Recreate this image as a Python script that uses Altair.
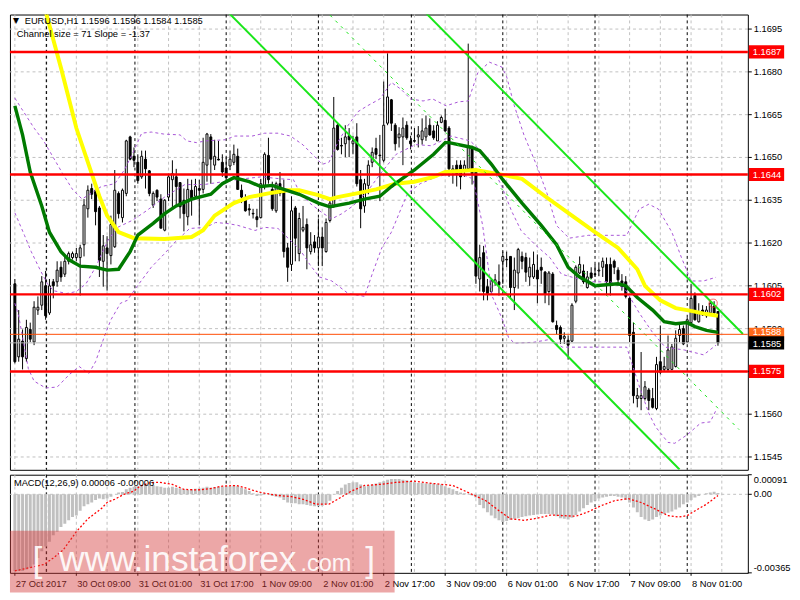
import altair as alt
import pandas as pd

W = 752
H_MAIN = 464
H_MACD = 100

# ---------------- data ----------------
bar_open = [1.16057,1.15801,1.15856,1.15795,1.15897,1.15853,1.15965,1.15982,1.16050,1.15955,
1.16064,1.16064,1.16115,1.16091,1.16136,1.16149,1.16149,1.16149,1.16194,1.16320,
1.16391,1.16385,1.16323,1.16136,1.16183,1.16156,1.16187,1.16374,1.16289,1.16374,
1.16572,1.16504,1.16483,1.16432,1.16494,1.16453,1.16333,1.16385,1.16354,1.16245,
1.16361,1.16422,1.16432,1.16412,1.16350,1.16292,1.16385,1.16364,1.16391,1.16388,
1.16473,1.16572,1.16473,1.16494,1.16483,1.16463,1.16470,1.16483,1.16504,1.16385,
1.16354,1.16320,1.16304,1.16292,1.16289,1.16398,1.16507,1.16388,1.16313,1.16408,
1.16388,1.16183,1.16125,1.16323,1.16163,1.16245,1.16265,1.16170,1.16204,1.16183,
1.16221,1.16170,1.16279,1.16330,1.16613,1.16542,1.16548,1.16576,1.16548,1.16572,
1.16422,1.16330,1.16402,1.16483,1.16531,1.16508,1.16490,1.16620,1.16702,1.16613,
1.16569,1.16572,1.16613,1.16558,1.16559,1.16572,1.16562,1.16572,1.16613,1.16593,
1.16558,1.16623,1.16630,1.16603,1.16449,1.16473,1.16473,1.16456,1.16460,1.16535,
1.16456,1.16074,1.16166,1.16047,1.16030,1.16061,1.16064,1.16136,1.16143,1.16153,
1.16044,1.16095,1.16153,1.16149,1.16081,1.16081,1.16105,1.16115,1.16098,1.16030,
1.16091,1.15911,1.15904,1.15866,1.15859,1.15856,1.15996,1.16095,1.16102,1.16044,
1.16095,1.16092,1.16102,1.16115,1.16125,1.16125,1.16136,1.16105,1.16067,1.16064,
1.16006,1.15887,1.15655,1.15655,1.15655,1.15685,1.15655,1.15620,1.15784,1.15757,
1.15757,1.15757,1.15767,1.15876,1.15900,1.15853,1.15921,1.16016,1.15924,1.15965,
1.15945,1.15955,1.15979,1.15960]

bar_high = [1.16074,1.15965,1.15897,1.15931,1.15921,1.15996,1.16013,1.16084,1.16102,1.16074,
1.16074,1.16136,1.16136,1.16153,1.16170,1.16170,1.16183,1.16194,1.16354,1.16402,
1.16408,1.16408,1.16330,1.16228,1.16224,1.16296,1.16456,1.16381,1.16391,1.16562,
1.16576,1.16535,1.16511,1.16524,1.16524,1.16456,1.16381,1.16388,1.16371,1.16354,
1.16443,1.16490,1.16460,1.16412,1.16391,1.16425,1.16422,1.16425,1.16422,1.16569,
1.16586,1.16582,1.16562,1.16558,1.16511,1.16501,1.16524,1.16545,1.16531,1.16405,
1.16371,1.16337,1.16320,1.16320,1.16425,1.16518,1.16569,1.16415,1.16415,1.16449,
1.16422,1.16200,1.16364,1.16330,1.16306,1.16330,1.16286,1.16238,1.16228,1.16286,
1.16255,1.16286,1.16354,1.16712,1.16620,1.16569,1.16613,1.16603,1.16576,1.16620,
1.16456,1.16425,1.16490,1.16535,1.16569,1.16579,1.16766,1.16865,1.16705,1.16620,
1.16606,1.16640,1.16627,1.16576,1.16603,1.16610,1.16637,1.16647,1.16637,1.16613,
1.16627,1.16647,1.16671,1.16610,1.16473,1.16490,1.16490,1.16490,1.16899,1.16541,
1.16460,1.16194,1.16190,1.16074,1.16074,1.16091,1.16125,1.16170,1.16170,1.16153,
1.16149,1.16183,1.16170,1.16166,1.16149,1.16170,1.16160,1.16149,1.16102,1.16102,
1.16098,1.15928,1.15911,1.15887,1.15876,1.15989,1.16122,1.16153,1.16125,1.16102,
1.16115,1.16125,1.16132,1.16149,1.16149,1.16149,1.16142,1.16115,1.16091,1.16084,
1.16013,1.15921,1.15692,1.15818,1.15716,1.15692,1.15692,1.15801,1.15911,1.15801,
1.15876,1.15846,1.15894,1.15914,1.15911,1.15938,1.16057,1.16027,1.15989,1.15982,
1.15979,1.15999,1.15996,1.15960]

bar_low = [1.15778,1.15784,1.15757,1.15784,1.15853,1.15842,1.15948,1.15965,1.15931,1.15948,
1.16006,1.16047,1.16064,1.16081,1.16125,1.16142,1.16136,1.16016,1.16153,1.16289,
1.16354,1.16262,1.16081,1.16047,1.16033,1.16125,1.16183,1.16286,1.16272,1.16364,
1.16490,1.16466,1.16408,1.16425,1.16391,1.16364,1.16323,1.16347,1.16252,1.16241,
1.16347,1.16320,1.16330,1.16286,1.16241,1.16262,1.16296,1.16357,1.16262,1.16374,
1.16415,1.16408,1.16456,1.16490,1.16432,1.16422,1.16456,1.16473,1.16388,1.16340,
1.16310,1.16296,1.16286,1.16255,1.16286,1.16388,1.16408,1.16313,1.16306,1.16364,
1.16149,1.16064,1.16102,1.16136,1.16136,1.16238,1.16108,1.16160,1.16166,1.16119,
1.16119,1.16166,1.16272,1.16323,1.16524,1.16511,1.16501,1.16501,1.16511,1.16398,
1.16252,1.16306,1.16371,1.16466,1.16494,1.16347,1.16483,1.16613,1.16593,1.16524,
1.16535,1.16473,1.16562,1.16528,1.16552,1.16535,1.16545,1.16558,1.16576,1.16562,
1.16558,1.16620,1.16589,1.16432,1.16408,1.16398,1.16388,1.16432,1.16456,1.16405,
1.16057,1.16030,1.15999,1.15999,1.16023,1.16050,1.16016,1.16057,1.16115,1.16006,
1.15965,1.16040,1.16108,1.16064,1.16050,1.16074,1.15989,1.16057,1.15989,1.15982,
1.15921,1.15880,1.15846,1.15846,1.15791,1.15853,1.15989,1.16091,1.16057,1.16040,
1.16074,1.16081,1.16084,1.16081,1.16016,1.16016,1.16091,1.16050,1.16033,1.16006,
1.15853,1.15638,1.15624,1.15614,1.15648,1.15614,1.15620,1.15614,1.15740,1.15750,
1.15750,1.15754,1.15764,1.15853,1.15842,1.15849,1.15911,1.15928,1.15921,1.15945,
1.15938,1.15948,1.15948,1.15840]

bar_close = [1.15784,1.15863,1.15801,1.15904,1.15863,1.15975,1.15975,1.16064,1.15945,1.16050,
1.16050,1.16105,1.16081,1.16136,1.16163,1.16163,1.16163,1.16183,1.16333,1.16385,
1.16371,1.16310,1.16139,1.16190,1.16163,1.16265,1.16385,1.16303,1.16385,1.16558,
1.16494,1.16490,1.16419,1.16504,1.16460,1.16374,1.16374,1.16361,1.16252,1.16350,
1.16432,1.16443,1.16398,1.16327,1.16303,1.16388,1.16354,1.16398,1.16385,1.16483,
1.16582,1.16494,1.16504,1.16491,1.16449,1.16429,1.16494,1.16511,1.16388,1.16361,
1.16313,1.16316,1.16302,1.16282,1.16408,1.16511,1.16422,1.16320,1.16408,1.16374,
1.16170,1.16115,1.16313,1.16217,1.16286,1.16255,1.16183,1.16194,1.16183,1.16221,
1.16183,1.16272,1.16340,1.16603,1.16528,1.16540,1.16572,1.16562,1.16558,1.16408,
1.16320,1.16408,1.16473,1.16518,1.16511,1.16506,1.16613,1.16712,1.16620,1.16548,
1.16582,1.16603,1.16569,1.16548,1.16557,1.16579,1.16593,1.16603,1.16579,1.16569,
1.16613,1.16640,1.16593,1.16460,1.16460,1.16443,1.16432,1.16473,1.16541,1.16443,
1.16084,1.16149,1.16030,1.16023,1.16067,1.16071,1.16054,1.16153,1.16141,1.16044,
1.16105,1.16177,1.16136,1.16098,1.16115,1.16125,1.16074,1.16105,1.16020,1.16095,
1.15924,1.15897,1.15863,1.15873,1.15842,1.15982,1.16115,1.16125,1.16064,1.16081,
1.16078,1.16090,1.16105,1.16136,1.16064,1.16054,1.16115,1.16071,1.16047,1.16013,
1.15876,1.15665,1.15665,1.15665,1.15696,1.15648,1.15624,1.15774,1.15747,1.15767,
1.15825,1.15836,1.15866,1.15897,1.15846,1.15931,1.16006,1.15931,1.15955,1.15948,
1.15965,1.15989,1.15955,1.15850]

# yellow and dark green moving averages (read at sample bars)
ma_yellow_i = [7,8,12,16,20,22,24,27,31,39,46,49,52,57,61,66,71,74,79,82,84,89,94,99,104,109,112,
               120,127,132,138,145,151,157,162,164,168,172,176,180,183]
ma_yellow_p = [1.17063,1.17012,1.16814,1.16603,1.16443,1.16364,1.16296,1.16238,1.16217,1.16214,1.16221,
               1.16245,1.16296,1.16340,1.16361,1.16374,1.16385,1.16385,1.16368,1.16354,1.16361,1.16374,
               1.16388,1.16408,1.16415,1.16432,1.16449,1.16456,1.16439,1.16425,1.16364,1.16296,1.16238,
               1.16183,1.16108,1.16050,1.15999,1.15972,1.15962,1.15951,1.15945]
ma_green_i = [0,2,4,7,9,12,14,17,21,24,27,30,32,36,39,42,46,51,54,57,61,64,67,70,74,79,82,87,91,95,98,99,
              104,109,112,113,119,121,124,127,132,137,141,144,147,151,157,159,162,166,169,172,175,177,180,183]
ma_green_p = [1.16681,1.16579,1.16449,1.16330,1.16238,1.16170,1.16142,1.16119,1.16115,1.16105,1.16108,1.16170,
              1.16228,1.16269,1.16303,1.16330,1.16354,1.16371,1.16408,1.16429,1.16415,1.16398,1.16402,1.16388,
              1.16371,1.16340,1.16327,1.16340,1.16354,1.16364,1.16398,1.16408,1.16456,1.16511,1.16552,1.16552,
              1.16535,1.16524,1.16477,1.16422,1.16340,1.16262,1.16194,1.16115,1.16081,1.16050,1.16057,1.16050,
              1.16009,1.15965,1.15924,1.15917,1.15921,1.15907,1.15894,1.15887]

# Bollinger bands
bb_up_i = [0,1.75,5,7.5,10,12.5,15,17.5,22.5,26,28.5,31,33,35.5,38.75,43,44.75,47.25,49.75,54.75,57.25,61.75,
           65,68.5,71.75,75,77.5,80,81.75,84.25,86.75,89.25,91.75,95,98,100.5,103,106.25,108.75,112.25,115.5,
           118,120.5,123.5,126.75,128,130,132.5,136,138.5,141,144.25,149.25,156,159.25,162.5,165,167.5,171,
           173.5,176,179.25,182.5]
bb_up_p = [1.16708,1.16671,1.16603,1.16558,1.16500,1.16442,1.16388,1.16354,1.16398,1.16408,1.16456,1.16524,
           1.16585,1.16589,1.16582,1.16579,1.16558,1.16552,1.16558,1.16562,1.16575,1.16575,1.16585,1.16585,
           1.16575,1.16544,1.16510,1.16476,1.16483,1.16558,1.16613,1.16660,1.16681,1.16705,1.16763,1.16739,
           1.16705,1.16698,1.16705,1.16681,1.16695,1.16698,1.16797,1.16834,1.16817,1.16783,1.16681,1.16579,
           1.16466,1.16374,1.16261,1.16217,1.16227,1.16227,1.16227,1.16319,1.16336,1.16319,1.16238,1.16149,
           1.16067,1.16067,1.16080]
bb_mid_i = [0,2.5,4.25,6.75,8.5,10,13.5,16,18.5,21,24.25,26.75,30.5,34.25,39.25,44.25,49.25,54.25,59.25,64.25,
            69.25,72.5,74.25,76.75,80,82.5,85,88,91.75,95.5,99.25,104.25,108.5,113.5,118.5,121.75,124.25,
            126.75,129.25,131.75,135.5,139.25,142.25,149.25,155,158.75,162.5,166,169.25,174.25,179.25,182.5]
bb_mid_p = [1.16306,1.16227,1.16170,1.16101,1.16057,1.16033,1.16023,1.16030,1.16057,1.16115,1.16210,1.16255,
            1.16279,1.16313,1.16364,1.16405,1.16405,1.16415,1.16425,1.16432,1.16425,1.16422,1.16374,1.16340,
            1.16306,1.16285,1.16302,1.16330,1.16381,1.16449,1.16511,1.16545,1.16541,1.16575,1.16558,1.16517,
            1.16466,1.16398,1.16313,1.16244,1.16193,1.16149,1.16091,1.16064,1.16064,1.16040,1.15955,1.15886,
            1.15835,1.15825,1.15808,1.15842]
bb_low_i = [0,1,3.5,5,8,11,14.25,16.75,19.25,21,23.5,25,27.5,29.25,31.75,35.5,38.75,41.75,45.5,49.75,52.25,
            55.5,58,62.5,65,68.5,74.25,76.75,79.25,82.5,86.75,91,93,95.5,98,100.5,102.25,105.5,109.75,113,116,
            119.25,121.75,124.25,126.75,128.5,130,135,139.25,142.5,149.25,159.25,162.5,165,166.75,170,171.75,
            175,178.5,181,182.5]
bb_low_p = [1.15989,1.15944,1.15760,1.15716,1.15692,1.15695,1.15740,1.15767,1.15743,1.15784,1.15880,1.15931,
            1.15989,1.15999,1.16047,1.16115,1.16160,1.16204,1.16251,1.16255,1.16272,1.16268,1.16262,1.16244,
            1.16255,1.16251,1.16176,1.16125,1.16081,1.16067,1.16023,1.16013,1.16091,1.16183,1.16238,1.16320,
            1.16374,1.16408,1.16432,1.16442,1.16442,1.16425,1.16262,1.16013,1.15937,1.15869,1.15849,1.15852,
            1.15862,1.15835,1.15835,1.15835,1.15699,1.15603,1.15556,1.15501,1.15498,1.15528,1.15569,1.15573,
            1.15614]

# regression channel (anchor points)
ch_lower_i = [55, 173]
ch_lower_p = [1.17016, 1.15406]
ch_upper_i = [107, 189.5]
ch_upper_p = [1.17006, 1.15881]
ch_mid_i = [82, 188.5]
ch_mid_p = [1.16999, 1.15546]

levels_red = [1.1687, 1.1644, 1.1602, 1.1575]
level_orange = [1.1588]
last_price = [1.1585]
alert_i = [181.75]
alert_p = [1.15989]

price_ticks = [1.1545, 1.1560, 1.1575, 1.1590, 1.1605, 1.1620, 1.1635, 1.1650, 1.1665, 1.1680, 1.1695]

# MACD
macd_hist = [-0.00356,-0.00356,-0.00356,-0.00349,-0.00341,-0.00326,-0.00296,-0.00265,-0.00243,-0.00220,
-0.00190,-0.00174,-0.00152,-0.00137,-0.00121,-0.00106,-0.00099,-0.00076,-0.00056,-0.00046,
-0.00038,-0.00026,-0.00020,-0.00023,-0.00020,-0.00011,0.00000,0.00008,0.00011,0.00023,
0.00030,0.00035,0.00038,0.00042,0.00046,0.00046,0.00042,0.00038,0.00035,0.00030,
0.00030,0.00035,0.00030,0.00027,0.00023,0.00020,0.00023,0.00026,0.00027,0.00030,
0.00035,0.00030,0.00033,0.00035,0.00035,0.00038,0.00038,0.00041,0.00038,0.00030,
0.00023,0.00015,0.00005,-0.00008,-0.00005,0.00005,0.00000,-0.00008,-0.00011,-0.00015,
-0.00026,-0.00038,-0.00042,-0.00042,-0.00046,-0.00046,-0.00050,-0.00053,-0.00056,-0.00056,
-0.00053,-0.00046,-0.00030,0.00000,0.00015,0.00030,0.00046,0.00053,0.00056,0.00056,
0.00046,0.00038,0.00041,0.00046,0.00050,0.00056,0.00061,0.00068,0.00071,0.00071,
0.00071,0.00068,0.00065,0.00061,0.00056,0.00053,0.00053,0.00050,0.00050,0.00050,
0.00047,0.00046,0.00038,0.00030,0.00023,0.00015,0.00008,0.00005,0.00003,-0.00005,
-0.00015,-0.00050,-0.00065,-0.00083,-0.00099,-0.00111,-0.00121,-0.00129,-0.00124,-0.00118,
-0.00114,-0.00111,-0.00106,-0.00102,-0.00099,-0.00096,-0.00094,-0.00091,-0.00091,-0.00091,
-0.00094,-0.00102,-0.00111,-0.00114,-0.00117,-0.00109,-0.00096,-0.00080,-0.00065,-0.00050,
-0.00038,-0.00030,-0.00020,-0.00015,-0.00011,-0.00008,-0.00008,-0.00011,-0.00015,-0.00026,
-0.00038,-0.00061,-0.00083,-0.00106,-0.00117,-0.00124,-0.00117,-0.00106,-0.00099,-0.00091,
-0.00086,-0.00080,-0.00071,-0.00061,-0.00046,-0.00038,-0.00026,-0.00015,-0.00008,0.00000,
0.00005,0.00008,0.00012,0.00006]
signal_i = [0,7.6,10,12.6,16,19,22.6,24,26,28.4,31,32.6,35,37.6,41,44,47.6,51,54,57.6,60,62.6,65,68.4,72,75,
            78.4,81.75,84,87.6,91,95,99,104,109,114,119,122.6,126,129,132.6,136,139.6,142.6,146,149,152.6,
            156,159.6,163,166.6,170,172.75,175,176.75,180,183]
signal_v = [-0.00356,-0.00326,-0.00296,-0.00258,-0.00174,-0.00114,-0.00065,-0.00038,-0.00023,0.0,0.00015,
            0.00038,0.00053,0.00056,0.00046,0.00023,0.00020,0.00027,0.00038,0.00041,0.00030,0.00015,0.00005,
            -0.00005,-0.00011,-0.00023,-0.00046,-0.00046,-0.00023,0.00015,0.00041,0.00046,0.00055,0.00061,
            0.00050,0.00041,0.0,-0.00030,-0.00076,-0.00114,-0.00121,-0.00111,-0.00096,-0.00099,-0.00102,
            -0.00083,-0.00053,-0.00030,-0.00020,-0.00038,-0.00068,-0.00099,-0.00106,-0.00099,-0.00080,
            -0.00046,-0.00006]
macd_top_label = ["0.00091"]
macd_top_value = [0.00091]
macd_zero_label = ["0.00"]
macd_zero_value = [0.0]
macd_bottom_label = ["-0.00365"]
macd_bottom_value = [-0.00365]

# time axis
time_labels = ["27 Oct 2017", "30 Oct 09:00", "31 Oct 01:00", "31 Oct 17:00", "1 Nov 09:00", "2 Nov 01:00",
               "2 Nov 17:00", "3 Nov 09:00", "6 Nov 01:00", "6 Nov 17:00", "7 Nov 09:00", "8 Nov 01:00"]
label_bars = [0, 16, 32, 48, 64, 80, 96, 112, 128, 144, 160, 176]
grid_bars = [0, 8, 16, 24, 32, 40, 48, 56, 64, 72, 80, 88, 96, 104, 112, 120, 128, 136, 144, 152, 160, 168, 176, 184]
day_sep_bars = [8.25, 31.25, 55, 79, 103.2, 127, 151, 175]

header_text = ["EURUSD,H1  1.1596 1.1596 1.1584 1.1585"]
channel_text = ["Channel size = 71 Slope = -1.37"]
macd_text = ["MACD(12,26,9) 0.00006 -0.00006"]

# ---------------- chart ----------------
FONT = "Liberation Sans"
FS = 9.5
xs = alt.Scale(domain=[0, 189.5], nice=False, zero=False)
ys = alt.Scale(domain=[1.15405, 1.17001], nice=False, zero=False)
ms = alt.Scale(domain=[-0.00365, 0.00091], nice=False, zero=False)


def X(f):
    return alt.X(f, type="quantitative", scale=xs, axis=None)


def Y(f):
    return alt.Y(f, type="quantitative", scale=ys, axis=None)


def M(f):
    return alt.Y(f, type="quantitative", scale=ms, axis=None)


def line_layer(iv, pv, color, width, dash=None, yfun=Y):
    df = pd.DataFrame({"i": iv, "p": pv})
    kw = dict(color=color, strokeWidth=width, clip=True)
    if dash:
        kw["strokeDash"] = dash
    return alt.Chart(df).mark_line(**kw).encode(x=X("i"), y=yfun("p"))


def note(txt, x, y, size=FS, font=FONT, baseline="middle"):
    return alt.Chart(pd.DataFrame({"t": txt})).mark_text(
        align="left", baseline=baseline, font=font, fontSize=size, color="black").encode(
        x=alt.value(x), y=alt.value(y), text="t:N")


n = len(bar_open)
bars = pd.DataFrame({"i": list(range(n)), "o": bar_open, "h": bar_high, "l": bar_low, "c": bar_close})

# grid + separators
vgrid = alt.Chart(pd.DataFrame({"i": grid_bars})).mark_rule(
    color="#c0c0c0", strokeDash=[3, 3], strokeWidth=1).encode(x=X("i"))
dsep = alt.Chart(pd.DataFrame({"i": day_sep_bars})).mark_rule(
    color="black", strokeDash=[3, 3], strokeWidth=1).encode(x=X("i"))
pt = pd.DataFrame({"p": price_ticks})
hgrid = alt.Chart(pt).mark_rule(color="#c0c0c0", strokeDash=[3, 3], strokeWidth=1).encode(y=Y("p"))
ptick = alt.Chart(pt).mark_rule(color="black", strokeWidth=1).encode(
    x=alt.value(W), x2=alt.value(W + 4), y=Y("p"))
plabel = alt.Chart(pt).mark_text(align="left", baseline="middle", font=FONT, fontSize=FS,
                                 color="black").encode(x=alt.value(W + 6), y=Y("p"),
                                                       text=alt.Text("p:Q", format=".4f"))

wicks = alt.Chart(bars).mark_rule(color="black", strokeWidth=1, clip=True).encode(
    x=X("i"), y=Y("l"), y2="h:Q")
bodies = alt.Chart(bars).mark_bar(size=2, stroke="black", strokeWidth=1, clip=True).encode(
    x=X("i"), y=Y("o"), y2="c:Q",
    fill=alt.condition("datum.c >= datum.o", alt.value("white"), alt.value("black")))

BB = "#a653d6"
bb_up = line_layer(bb_up_i, bb_up_p, BB, 1, [3, 3])
bb_mid = line_layer(bb_mid_i, bb_mid_p, BB, 1, [3, 3])
bb_low = line_layer(bb_low_i, bb_low_p, BB, 1, [3, 3])
ma_y = line_layer(ma_yellow_i, ma_yellow_p, "#ffff00", 4)
ma_g = line_layer(ma_green_i, ma_green_p, "#007a00", 3.5)
CH = "#19e619"
ch1 = line_layer(ch_lower_i, ch_lower_p, CH, 2)
ch2 = line_layer(ch_upper_i, ch_upper_p, CH, 2)
ch3 = line_layer(ch_mid_i, ch_mid_p, CH, 1, [3, 5])

lv_red = alt.Chart(pd.DataFrame({"p": levels_red})).mark_rule(color="#ff0000", strokeWidth=2.5).encode(y=Y("p"))
lv_or = alt.Chart(pd.DataFrame({"p": level_orange})).mark_rule(color="#ff4a00", strokeWidth=1).encode(y=Y("p"))
lv_last = alt.Chart(pd.DataFrame({"p": last_price})).mark_rule(color="#b4b4b4", strokeWidth=1).encode(y=Y("p"))

alert = alt.Chart(pd.DataFrame({"i": alert_i, "p": alert_p})).mark_point(
    shape="circle", filled=False, color="#ff3030", size=70, strokeWidth=1).encode(x=X("i"), y=Y("p"))

BOX = "M-1,-0.37L1,-0.37L1,0.37L-1,0.37Z"


def tag(vals, bg, dy=0):
    df = pd.DataFrame({"p": vals})
    box = alt.Chart(df).mark_point(shape=BOX, filled=True, color=bg, opacity=1, size=1296,
                                   strokeWidth=0).encode(x=alt.value(W + 19), y=Y("p"))
    txt = alt.Chart(df).mark_text(align="left", baseline="middle", font=FONT, fontSize=FS, dy=dy,
                                  color="white").encode(x=alt.value(W + 5), y=Y("p"),
                                                        text=alt.Text("p:Q", format=".4f"))
    return [box, txt]


tags = tag(levels_red, "#ff0000") + tag(level_orange, "#ff6a1a", dy=-2) + tag(last_price, "#000000", dy=1)

tri = note(["▼"], 3, 7, size=8, font="DejaVu Sans")
hdr = note(header_text, 15, 7)
chn = note(channel_text, 7, 20)

main = alt.layer(hgrid, vgrid, dsep, wicks, bodies, bb_up, bb_mid, bb_low, ma_y, ma_g, ch1, ch2, ch3,
                 lv_red, lv_or, lv_last, alert, tri, hdr, chn, ptick, plabel, *tags).properties(
    width=W, height=H_MAIN)

# MACD panel
mh = pd.DataFrame({"i": list(range(n)), "v": macd_hist})
zero = alt.Chart(pd.DataFrame({"v": macd_zero_value})).mark_rule(
    color="#c0c0c0", strokeDash=[3, 3]).encode(y=M("v"))
hist = alt.Chart(mh).mark_bar(size=3, color="#c0c0c0", clip=True).encode(
    x=X("i"), y=M("v"), y2=alt.datum(0))
sig = line_layer(signal_i, signal_v, "#ff0000", 1.3, [2, 2], yfun=M)
mtxt = note(macd_text, 4, 8)


def mlabel(lbl, val, baseline):
    df = pd.DataFrame({"t": lbl, "v": val})
    t = alt.Chart(df).mark_text(align="left", baseline=baseline, font=FONT, fontSize=FS,
                                color="black").encode(x=alt.value(W + 6), y=M("v"), text="t:N")
    k = alt.Chart(df).mark_rule(color="black").encode(x=alt.value(W), x2=alt.value(W + 4), y=M("v"))
    return [k, t]


mlabels = (mlabel(macd_top_label, macd_top_value, "top") + mlabel(macd_zero_label, macd_zero_value, "middle")
           + mlabel(macd_bottom_label, macd_bottom_value, "bottom"))

xl = pd.DataFrame({"i": label_bars, "t": time_labels})
xtick = alt.Chart(xl).mark_rule(color="black").encode(
    x=X("i"), y=alt.value(H_MACD), y2=alt.value(H_MACD + 3))
xlab = alt.Chart(xl).mark_text(align="left", baseline="middle", font=FONT, fontSize=FS,
                               color="black", dx=1).encode(x=X("i"), y=alt.value(H_MACD + 11), text="t:N")

wm_rect = alt.Chart(pd.DataFrame({"k": [0]})).mark_rect(color="#d43c3c", opacity=0.45).encode(
    x=alt.value(0), x2=alt.value(392), y=alt.value(57), y2=alt.value(120))


def wm(txt, x, y, size):
    return alt.Chart(pd.DataFrame({"t": [txt]})).mark_text(
        align="left", baseline="alphabetic", font=FONT, fontSize=size, color="white", opacity=0.9).encode(
        x=alt.value(x), y=alt.value(y), text="t:N")


macd = alt.layer(vgrid, dsep, zero, hist, sig, mtxt, xtick, xlab, *mlabels, wm_rect,
                 wm("www.instaforex", 50, 98, 36), wm(".com", 296, 98, 24),
                 wm("[", 23, 99, 36), wm("]", 362, 99, 36)).properties(width=W, height=H_MACD)

chart = alt.vconcat(main, macd, spacing=3).properties(padding=0, background="white").configure_view(
    stroke="black", strokeWidth=1)

chart.save("out.html", embed_options={"renderer": "svg", "actions": False})
